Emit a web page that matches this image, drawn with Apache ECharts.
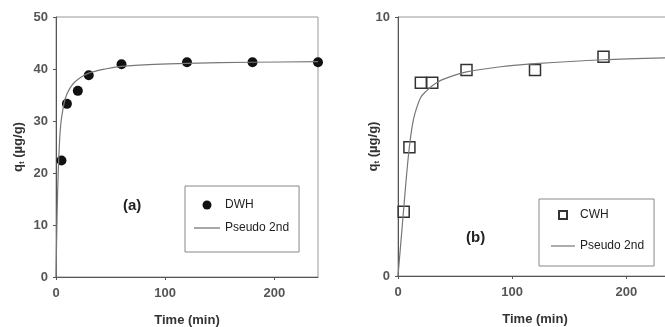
<!DOCTYPE html>
<html>
<head>
<meta charset="utf-8">
<script src="https://cdn.jsdelivr.net/npm/echarts@6/dist/echarts.min.js"></script>
<style>
  html, body { margin: 0; padding: 0; background: #fff; }
  #chart { width: 665px; height: 327px; }
</style>
</head>
<body>
<div id="chart"></div>
<script>
// panel (a) - DWH
const timeA = [5, 10, 20, 30, 60, 120, 180, 240]
const qA = [22.4, 33.3, 35.8, 38.8, 40.9, 41.3, 41.3, 41.3]
const fitTimeA = [0, 1, 2, 3, 4, 5, 7.5, 10, 15, 20, 30, 45, 60, 90, 120, 180, 240]
const fitQA = [0, 12, 20, 25, 28.5, 30.5, 33.5, 35.2, 37, 38, 39.2, 40, 40.5, 40.9, 41.1, 41.3, 41.4]

// panel (b) - CWH
const timeB = [5, 10, 20, 30, 60, 120, 180]
const qB = [2.48, 4.97, 7.46, 7.46, 7.95, 7.95, 8.47]
const fitTimeB = [0, 2.5, 5, 7.5, 10, 12.5, 15, 20, 25, 30, 40, 60, 90, 120, 180, 240]
const fitQB = [0, 1.3, 2.6, 3.9, 5.0, 5.8, 6.3, 6.9, 7.15, 7.35, 7.6, 7.88, 8.08, 8.2, 8.35, 8.43]

const xTicks = [0, 100, 200]
const yTicksA = [0, 10, 20, 30, 40, 50]
const yTicksB = [0, 10]

const pairs = (xs, ys) => xs.map((x, i) => [x, ys[i]])

const font = 'Liberation Sans, Arial, sans-serif'
const labelStyle = { color: '#555', fontSize: 13, fontWeight: 'bold', fontFamily: font }
const lineIcon = 'path://M0,0 L26,0 L26,1.3 L0,1.3 Z'
const squareIcon = 'path://M0,0 L10,0 L10,10 L0,10 Z'

function xAxis(gridIndex) {
  return {
    type: 'value', gridIndex: gridIndex, min: 0, max: 240,
    name: 'Time (min)', nameLocation: 'middle', nameGap: 37, nameMoveOverlap: false,
    nameTextStyle: { color: '#333', fontSize: 13, fontWeight: 'bold', fontFamily: font },
    axisLine: { show: true, lineStyle: { color: '#555' } },
    axisTick: { show: true, length: 3, customValues: xTicks, lineStyle: { color: '#555' } },
    axisLabel: Object.assign({ margin: 10, customValues: xTicks }, labelStyle),
    splitLine: { show: false },
  }
}

function yAxis(gridIndex, max, ticks, gap) {
  return {
    type: 'value', gridIndex: gridIndex, min: 0, max: max,
    name: '{a|q}{sub|t}{a| (µg/g)}', nameLocation: 'middle', nameGap: gap, nameRotate: 90,
    nameMoveOverlap: false,
    nameTextStyle: {
      rich: {
        a: { fontSize: 13, fontWeight: 'bold', color: '#333', fontFamily: font },
        sub: { fontSize: 8, fontWeight: 'bold', color: '#333', fontFamily: font, padding: [8, 0, 0, 0] },
      },
    },
    axisLine: { show: true, lineStyle: { color: '#555' } },
    axisTick: { show: true, length: 3, customValues: ticks, lineStyle: { color: '#555' } },
    axisLabel: Object.assign({ margin: 8, customValues: ticks }, labelStyle),
    splitLine: { show: false },
  }
}

const chart = echarts.init(document.getElementById('chart'))
chart.setOption({
  animation: false,
  grid: [
    { left: 56, top: 17, width: 262, height: 260, outerBoundsMode: 'none', show: true, borderColor: '#999', borderWidth: 1 },
    { left: 398, top: 17, width: 274, height: 259, outerBoundsMode: 'none', show: true, borderColor: '#999', borderWidth: 1 },
  ],
  xAxis: [xAxis(0), xAxis(1)],
  yAxis: [yAxis(0, 50, yTicksA, 30), yAxis(1, 10, yTicksB, 17)],
  legend: [
    {
      left: 185, top: 186, width: 94, orient: 'vertical',
      borderColor: '#888', borderWidth: 1, padding: [13, 10, 18, 9], itemGap: 11,
      itemWidth: 26, itemHeight: 9,
      textStyle: { fontSize: 12, color: '#222', fontFamily: font },
      data: [
        { name: 'DWH', icon: 'circle' },
        { name: 'Pseudo 2nd', icon: lineIcon, itemStyle: { color: '#777' } },
      ],
    },
    {
      left: 539, top: 199, width: 96, orient: 'vertical',
      borderColor: '#888', borderWidth: 1, padding: [10, 10, 14, 12], itemGap: 19,
      itemWidth: 24, itemHeight: 8,
      textStyle: { fontSize: 12, color: '#222', fontFamily: font },
      data: [
        { name: 'CWH', icon: squareIcon },
        { name: 'Pseudo 2nd', icon: lineIcon, itemStyle: { color: '#777' } },
      ],
    },
  ],
  graphic: [
    { type: 'text', left: 123, top: 198, style: { text: '(a)', fontSize: 15, fontWeight: 'bold', fill: '#222', fontFamily: font } },
    { type: 'text', left: 466, top: 230, style: { text: '(b)', fontSize: 15, fontWeight: 'bold', fill: '#222', fontFamily: font } },
  ],
  series: [
    {
      name: 'Pseudo 2nd', type: 'line', xAxisIndex: 0, yAxisIndex: 0,
      data: pairs(fitTimeA, fitQA), showSymbol: false, symbol: 'none',
      smooth: 0.3, lineStyle: { color: '#777', width: 1.2 }, itemStyle: { color: '#777' },
    },
    {
      name: 'DWH', type: 'scatter', xAxisIndex: 0, yAxisIndex: 0,
      data: pairs(timeA, qA), symbol: 'circle', symbolSize: 10,
      itemStyle: { color: '#111', opacity: 1 },
    },
    {
      name: 'Pseudo 2nd', type: 'line', xAxisIndex: 1, yAxisIndex: 1,
      data: pairs(fitTimeB, fitQB), showSymbol: false, symbol: 'none',
      smooth: 0.3, lineStyle: { color: '#777', width: 1.2 }, itemStyle: { color: '#777' },
    },
    {
      name: 'CWH', type: 'scatter', xAxisIndex: 1, yAxisIndex: 1,
      data: pairs(timeB, qB), symbol: 'rect', symbolSize: 11,
      itemStyle: { color: '#fff', borderColor: '#333', borderWidth: 1.5, opacity: 1 },
    },
  ],
})
window.addEventListener('resize', () => {
  chart.resize()
})
</script>
</body>
</html>
